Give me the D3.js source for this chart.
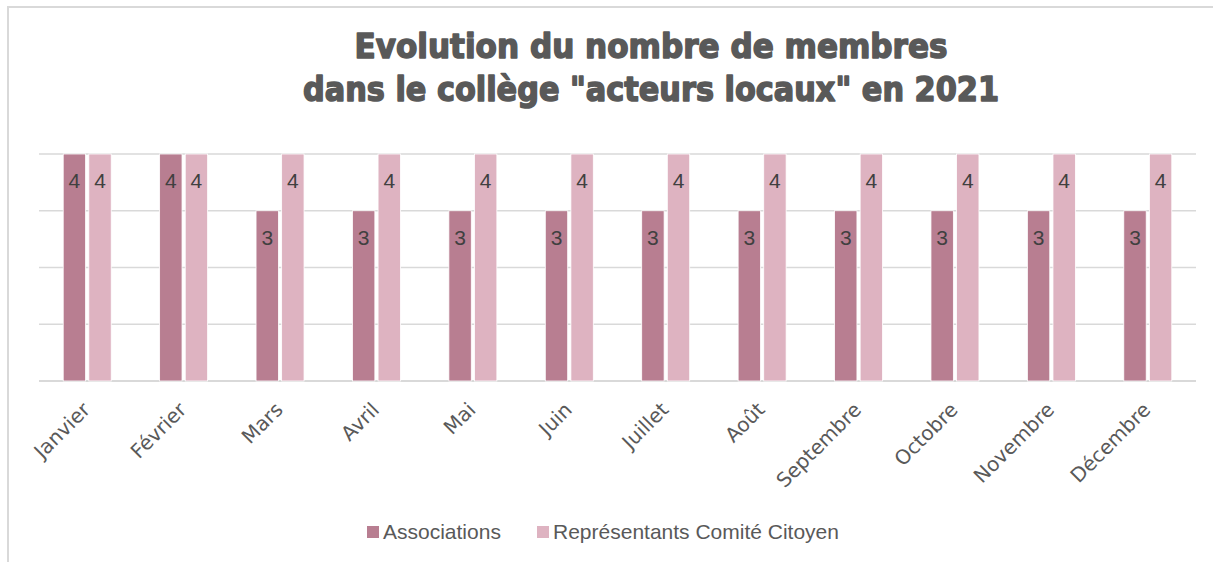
<!DOCTYPE html>
<html>
<head>
<meta charset="utf-8">
<script src="https://cdn.jsdelivr.net/npm/d3@7"></script>
<style>
  body { margin: 0; background: #fff; }
  svg { display: block; }
</style>
</head>
<body>
<svg id="chart" width="1213" height="562"></svg>
<script>
const months = ['Janvier', 'Février', 'Mars', 'Avril', 'Mai', 'Juin', 'Juillet', 'Août', 'Septembre', 'Octobre', 'Novembre', 'Décembre'];
const associations = [4, 4, 3, 3, 3, 3, 3, 3, 3, 3, 3, 3];
const comite = [4, 4, 4, 4, 4, 4, 4, 4, 4, 4, 4, 4];
const seriesNames = ['Associations', 'Représentants Comité Citoyen'];
const seriesColors = ['#B87E91', '#DEB3C1'];
const yTicks = [0, 1, 2, 3, 4];

const svg = d3.select('#chart');
const W = 1213, H = 562;

// chart frame
svg.append('rect')
  .attr('x', 8).attr('y', 7).attr('width', W + 10).attr('height', H + 10)
  .attr('fill', '#fff').attr('stroke', '#d9d9d9').attr('stroke-width', 2);

const plot = { left: 39, right: 1196, top: 154, bottom: 381 };

const x0 = d3.scaleBand().domain(months).range([plot.left, plot.right]).padding(0);
const x1 = d3.scaleBand().domain([0, 1]).range([0, 48]).paddingInner(0.125);
const y = d3.scaleLinear().domain([0, 4]).range([plot.bottom, plot.top]);

// gridlines
svg.append('g').selectAll('line')
  .data(yTicks)
  .enter().append('line')
  .attr('x1', plot.left).attr('x2', plot.right)
  .attr('y1', d => y(d)).attr('y2', d => y(d))
  .attr('stroke', '#d9d9d9').attr('stroke-width', d => d === 0 ? 2 : 1.5);

const data = months.map((m, i) => ({ month: m, vals: [associations[i], comite[i]] }));

const groups = svg.append('g').selectAll('g')
  .data(data)
  .enter().append('g')
  .attr('transform', d => `translate(${x0(d.month) + x0.bandwidth() / 2 - 24},0)`);

groups.selectAll('rect')
  .data(d => d.vals.map((v, s) => ({ v, s })))
  .enter().append('rect')
  .attr('x', d => x1(d.s))
  .attr('width', x1.bandwidth())
  .attr('y', d => y(d.v))
  .attr('height', d => y(0) - y(d.v))
  .attr('fill', d => seriesColors[d.s])
  .attr('stroke', '#fff').attr('stroke-width', 0.8);

// value labels (inside end)
groups.selectAll('text')
  .data(d => d.vals.map((v, s) => ({ v, s })))
  .enter().append('text')
  .attr('x', d => x1(d.s) + x1.bandwidth() / 2)
  .attr('y', d => y(d.v) + 34)
  .attr('text-anchor', 'middle')
  .attr('font-family', 'Liberation Sans, Arial, sans-serif')
  .attr('font-size', 21)
  .attr('fill', '#404040')
  .text(d => d.v);

// x axis labels
const xAxis = d3.axisBottom(x0).tickSize(0).tickPadding(0);
const xg = svg.append('g').attr('transform', `translate(0,${plot.bottom})`).call(xAxis);
xg.select('.domain').remove();
xg.selectAll('text')
  .attr('font-family', 'DejaVu Sans, sans-serif')
  .attr('font-size', 20)
  .attr('fill', '#595959')
  .attr('text-anchor', 'end')
  .attr('dy', '0')
  .attr('transform', 'translate(4,30) rotate(-45)');

// title
const title = svg.append('g')
  .attr('font-family', 'DejaVu Sans, sans-serif')
  .attr('font-weight', 'bold')
  .attr('font-size', 34)
  .attr('fill', '#595959')
  .attr('stroke', '#595959').attr('stroke-width', 1.6)
  .attr('stroke-linejoin', 'round')
  .attr('text-anchor', 'middle');
title.append('text').attr('x', 651).attr('y', 58)
  .attr('textLength', 593).attr('lengthAdjust', 'spacingAndGlyphs')
  .text('Evolution du nombre de membres');
title.append('text').attr('x', 651).attr('y', 101)
  .attr('textLength', 696).attr('lengthAdjust', 'spacingAndGlyphs')
  .text('dans le collège "acteurs locaux" en 2021');

// legend
const legendX = [367, 537];
const legend = svg.append('g').selectAll('g')
  .data(seriesNames)
  .enter().append('g')
  .attr('transform', (d, i) => `translate(${legendX[i]},526)`);
legend.append('rect')
  .attr('width', 12).attr('height', 12)
  .attr('fill', (d, i) => seriesColors[i]);
legend.append('text')
  .attr('x', 16).attr('y', 13)
  .attr('font-family', 'Liberation Sans, Arial, sans-serif')
  .attr('font-size', 21)
  .attr('fill', '#595959')
  .text(d => d);
</script>
</body>
</html>
